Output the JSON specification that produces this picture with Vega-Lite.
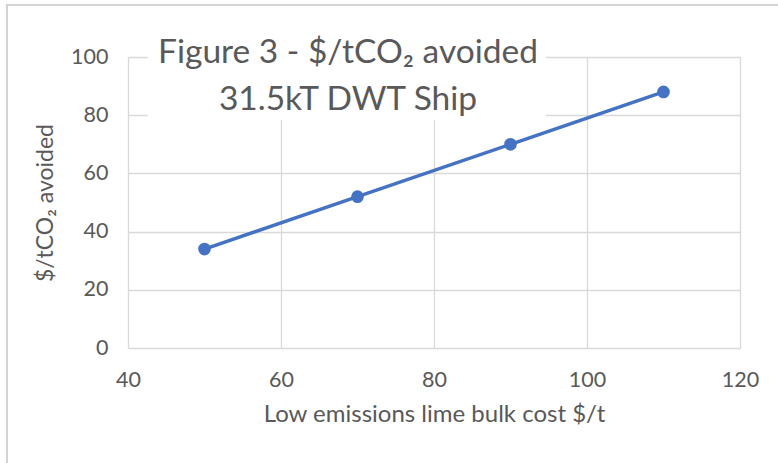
{
  "$schema": "https://vega.github.io/schema/vega-lite/v6.json",
  "width": 612,
  "height": 291,
  "autosize": {"type": "none"},
  "padding": {"left": 128, "top": 57, "right": 38, "bottom": 115},
  "background": "white",
  "config": {
    "font": "Lato",
    "view": {"stroke": null},
    "axis": {
      "grid": true,
      "labelFont": "Lato",
      "titleFont": "Lato",
      "labelColor": "#595959",
      "titleColor": "#595959",
      "labelFontSize": 21.5,
      "titleFontWeight": "normal",
      "gridColor": "#d9d9d9",
      "gridWidth": 1.3,
      "ticks": false,
      "domain": false,
      "labelFlush": false
    }
  },
  "title": {
    "text": ["Figure 3 - $/tCO₂ avoided", "31.5kT DWT Ship"],
    "font": "Lato",
    "fontSize": 33.5,
    "fontWeight": "normal",
    "color": "#595959",
    "lineHeight": 47,
    "anchor": "middle",
    "dx": -86,
    "offset": -114
  },
  "data": {
    "values": [
      {"cost": 50, "avoided": 34},
      {"cost": 70, "avoided": 52},
      {"cost": 90, "avoided": 70},
      {"cost": 110, "avoided": 88}
    ]
  },
  "layer": [
    {
      "mark": {"type": "line", "color": "#4472C4", "strokeWidth": 3.5, "strokeOpacity": 0},
      "encoding": {
        "x": {
          "field": "cost",
          "type": "quantitative",
          "scale": {"domain": [40, 120], "nice": false, "zero": false},
          "axis": {
            "grid": true,
            "title": "Low emissions lime bulk cost $/t",
            "titleFontSize": 24,
            "values": [40, 60, 80, 100, 120],
            "labelPadding": 21,
            "titlePadding": 12
          }
        },
        "y": {
          "field": "avoided",
          "type": "quantitative",
          "scale": {"domain": [0, 100], "nice": false},
          "axis": {
            "grid": true,
            "title": "$/tCO₂ avoided",
            "titleFontSize": 23,
            "values": [0, 20, 40, 60, 80, 100],
            "labelPadding": 20,
            "titlePadding": 13
          }
        }
      }
    },
    {
      "mark": {"type": "rect", "fill": null, "stroke": "#d4d4d4", "strokeWidth": 2, "clip": false},
      "encoding": {
        "x": {"datum": 24.18, "type": "quantitative"},
        "x2": {"datum": 127},
        "y": {"datum": 117.9, "type": "quantitative"},
        "y2": {"datum": -44}
      }
    },
    {
      "mark": {"type": "rect", "fill": "white", "clip": false},
      "encoding": {
        "x": {"datum": 42.6, "type": "quantitative"},
        "x2": {"datum": 94.6},
        "y": {"datum": 78.4, "type": "quantitative"},
        "y2": {"datum": 101}
      }
    },
    {
      "mark": {"type": "line", "color": "#4472C4", "strokeWidth": 3.5},
      "encoding": {
        "x": {"field": "cost", "type": "quantitative"},
        "y": {"field": "avoided", "type": "quantitative"}
      }
    },
    {
      "mark": {"type": "point", "filled": true, "opacity": 1, "color": "#4472C4", "size": 160, "shape": "circle"},
      "encoding": {
        "x": {"field": "cost", "type": "quantitative"},
        "y": {"field": "avoided", "type": "quantitative"}
      }
    }
  ]
}
